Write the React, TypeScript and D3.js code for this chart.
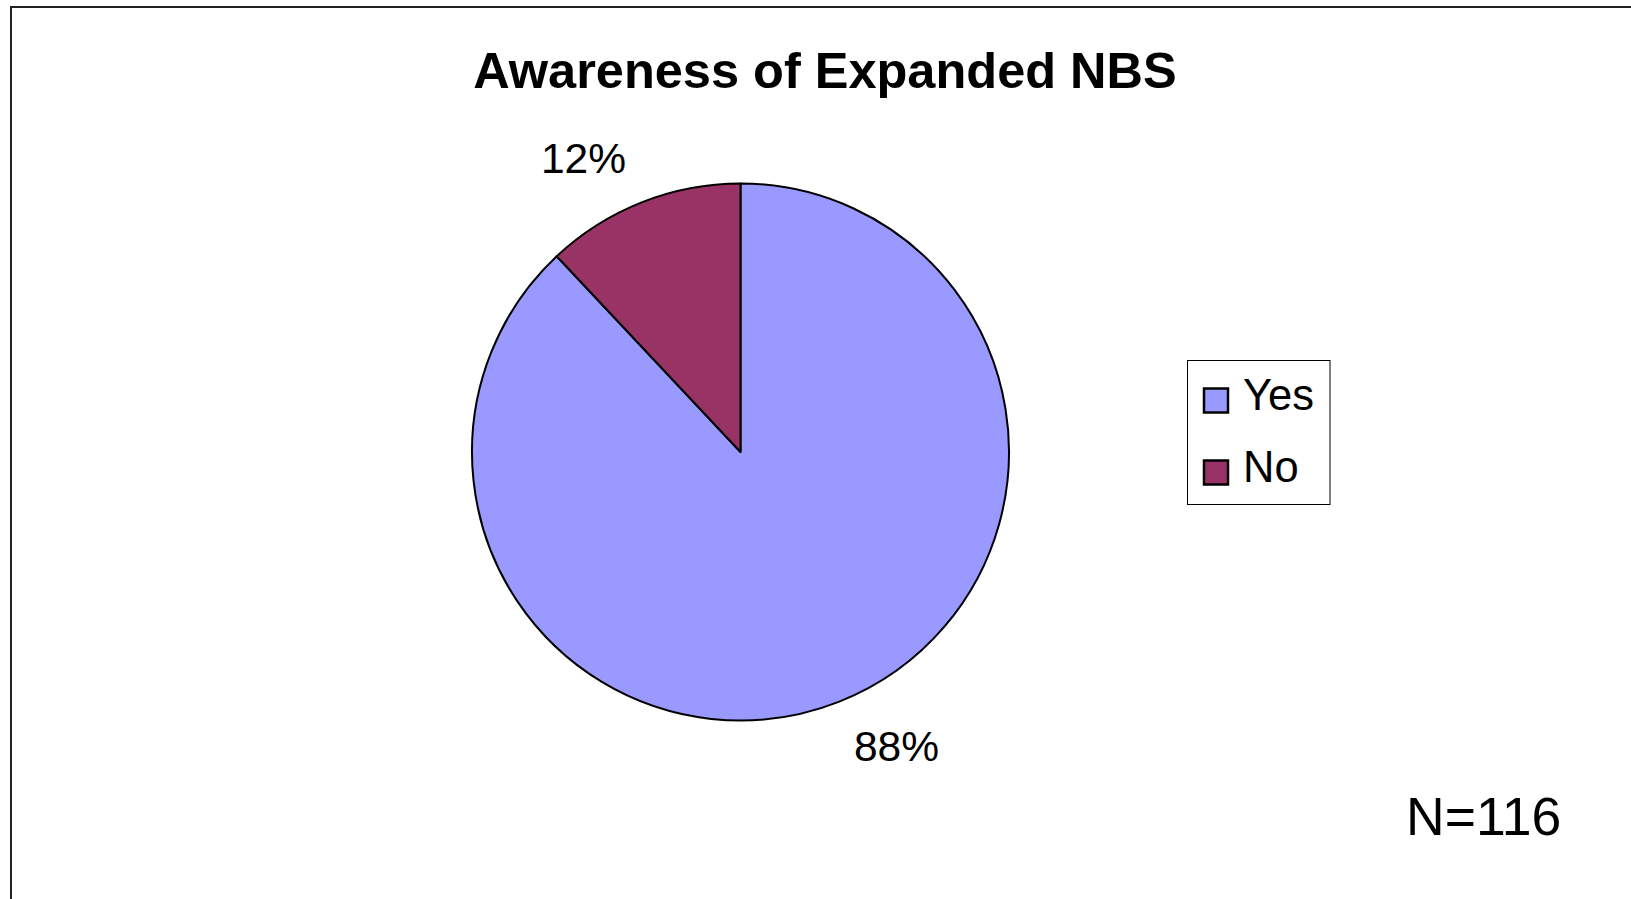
import React from "react";
import * as d3 from "d3";

const categories = ["Yes", "No"];
const values = [88, 12];
const percentLabels = ["88%", "12%"];
const colors = ["#9999FF", "#993366"];
const title = "Awareness of Expanded NBS";
const note = "N=116";

const W = 1631;
const H = 899;
const cx = 740.5;
const cy = 452;
const R = 268.5;
// label offsets (relative to pie center) for each slice, Excel-style placement
const labelOffsets = [
  [156, 309],
  [-157, -279],
];

export default function App() {
  const pie = d3.pie<number>().sort(null).startAngle(0).endAngle(2 * Math.PI);
  const arcs = pie(values);
  const arc = d3.arc<d3.PieArcDatum<number>>().innerRadius(0).outerRadius(R);
  const font = "'Liberation Sans', Arial, Helvetica, sans-serif";

  return (
    <svg
      width={W}
      height={H}
      style={{ position: "absolute", left: 0, top: 0, background: "#fff" }}
    >
      <rect x={11} y={7} width={W + 20} height={H + 20} fill="#fff" stroke="#222" strokeWidth={2} />
      <text
        x={825}
        y={87.5}
        textAnchor="middle"
        fontFamily={font}
        fontWeight="bold"
        fontSize={50.5}
        fill="#000"
      >
        {title}
      </text>
      <g transform={`translate(${cx},${cy})`}>
        {arcs.map((a, i) => (
          <path key={i} d={arc(a) || ""} fill={colors[i]} stroke="#000" strokeWidth={2} strokeLinejoin="round" />
        ))}
        {arcs.map((a, i) => (
          <text
            key={"l" + i}
            x={labelOffsets[i][0]}
            y={labelOffsets[i][1]}
            textAnchor="middle"
            fontFamily={font}
            fontSize={42.5}
            fill="#000"
          >
            {percentLabels[i]}
          </text>
        ))}
      </g>
      <g>
        <rect x={1187.5} y={360.5} width={142.5} height={144} fill="#fff" stroke="#000" strokeWidth={1} />
        {categories.map((c, i) => (
          <g key={c} transform={`translate(0,${i * 72})`}>
            <rect x={1204} y={388.5} width={24} height={24} fill={colors[i]} stroke="#000" strokeWidth={2.5} />
            <text x={1243} y={410} fontFamily={font} fontSize={43.5} fill="#000">
              {c}
            </text>
          </g>
        ))}
      </g>
      <text x={1406} y={835} fontFamily={font} fontSize={53.5} fill="#000">
        {note}
      </text>
    </svg>
  );
}
